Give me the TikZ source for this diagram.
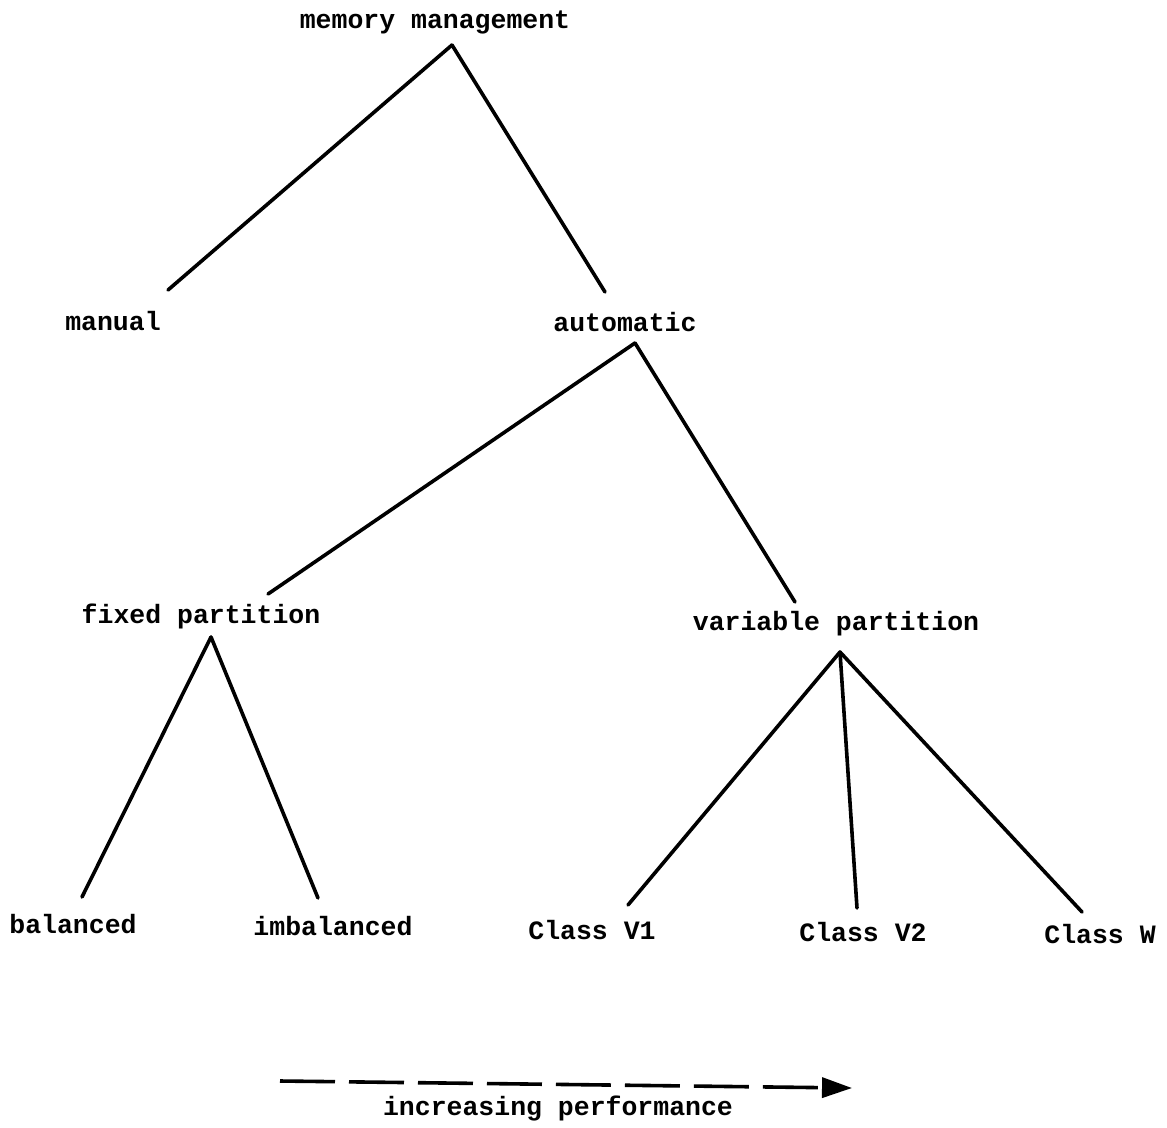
\documentclass[tikz,border=0pt]{standalone}
\usepackage{fontspec}
\setmonofont{Liberation Mono}
\usetikzlibrary{arrows.meta}
\begin{document}
\begin{tikzpicture}[x=1pt,y=-1pt,
  lbl/.style={font=\fontsize{26.5}{30}\ttfamily\bfseries, inner sep=0pt},
  edge/.style={line width=3.6pt, line cap=round}]
\useasboundingbox (0,0) rectangle (1167,1127);
% labels
\node[lbl] (mm) at (435,22) {memory management};
\node[lbl] (man) at (113,321) {manual};
\node[lbl] (auto) at (625,322) {automatic};
\node[lbl] (fix) at (201,616) {fixed partition};
\node[lbl] (var) at (836,624) {variable partition};
\node[lbl] (bal) at (73,924) {balanced};
\node[lbl] (imb) at (333,926) {imbalanced};
\node[lbl] (v1) at (592,930) {Class V1};
\node[lbl] (v2) at (863,932) {Class V2};
\node[lbl] (w) at (1100,934) {Class W};
\node[lbl] (perf) at (558,1108) {increasing performance};
% connector end points
\coordinate (mmT) at (452,45);
\coordinate (manT) at (168,290);
\coordinate (autoT) at (605,292);
\coordinate (autoB) at (635,343);
\coordinate (fixT) at (268,594);
\coordinate (varT) at (795,602);
\coordinate (fixB) at (211,637);
\coordinate (balT) at (82,897);
\coordinate (imbT) at (318,898);
\coordinate (varB) at (840,652);
\coordinate (v1T) at (628,905);
\coordinate (v2T) at (857,908);
\coordinate (wT) at (1082,912);
\coordinate (arrS) at (280,1081);
\coordinate (arrE) at (852,1088);
% connectors
\draw[edge] (mmT) -- (manT);
\draw[edge] (mmT) -- (autoT);
\draw[edge] (autoB) -- (fixT);
\draw[edge] (autoB) -- (varT);
\draw[edge] (fixB) -- (balT);
\draw[edge] (fixB) -- (imbT);
\draw[edge] (varB) -- (v1T);
\draw[edge] (varB) -- (v2T);
\draw[edge] (varB) -- (wT);
\draw[line width=3.6pt, dash pattern=on 55pt off 14pt, -{Triangle[length=30pt,width=20pt]}] (arrS) -- (arrE);
\end{tikzpicture}
\end{document}
